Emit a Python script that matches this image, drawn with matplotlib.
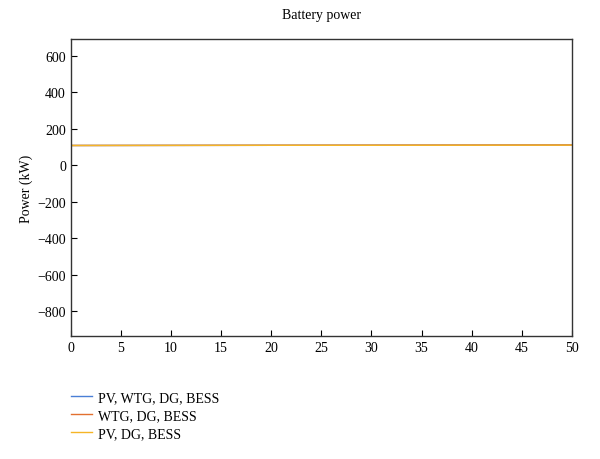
import matplotlib
matplotlib.use("Agg")
import matplotlib.pyplot as plt

plt.rcParams['font.family'] = ['Liberation Serif', 'DejaVu Serif']

time = [0, 10, 20, 30, 40, 50]
pv_wtg_dg_bess = [109, 109.5, 110, 110.5, 111, 112]
wtg_dg_bess = [109, 109.5, 110, 110.5, 111, 111.5]
pv_dg_bess = [109, 109.5, 110, 110, 110.5, 111]
labels = ["PV, WTG, DG, BESS", "WTG, DG, BESS", "PV, DG, BESS"]
colors = ["#4a7fd6", "#e2702f", "#f5b526"]

fig = plt.figure(figsize=(6, 4.6), dpi=100)
ax = fig.add_axes([0.118, 0.267, 0.835, 0.646])
for y, lab, c in zip([pv_wtg_dg_bess, wtg_dg_bess, pv_dg_bess], labels, colors):
    ax.plot(time, y, color=c, lw=1.0, label=lab)

ax.set_xlim(0, 50)
ax.set_ylim(-937, 693)
ax.set_xticks(range(0, 51, 5))
ax.set_yticks(range(-800, 601, 200))
ax.set_yticklabels(["\u2212800", "\u2212600", "\u2212400", "\u2212200", "0", "200", "400", "600"])
ax.tick_params(direction='in', labelsize=10, length=4, right=False, top=False)
ax.set_ylabel("Power (kW)", fontsize=10)
ax.yaxis.set_label_coords(-0.076, 0.5)
ax.set_title("Battery power", fontsize=10, pad=15)
for s in ax.spines.values():
    s.set_color("#333333")
    s.set_linewidth(1.0)

fig.legend(loc='upper left', bbox_to_anchor=(0.098, 0.175), frameon=False,
           fontsize=10, handlelength=1.5, handletextpad=0.45, labelspacing=0.35,
           bbox_transform=fig.transFigure)
fig.savefig("out.png", dpi=100)
